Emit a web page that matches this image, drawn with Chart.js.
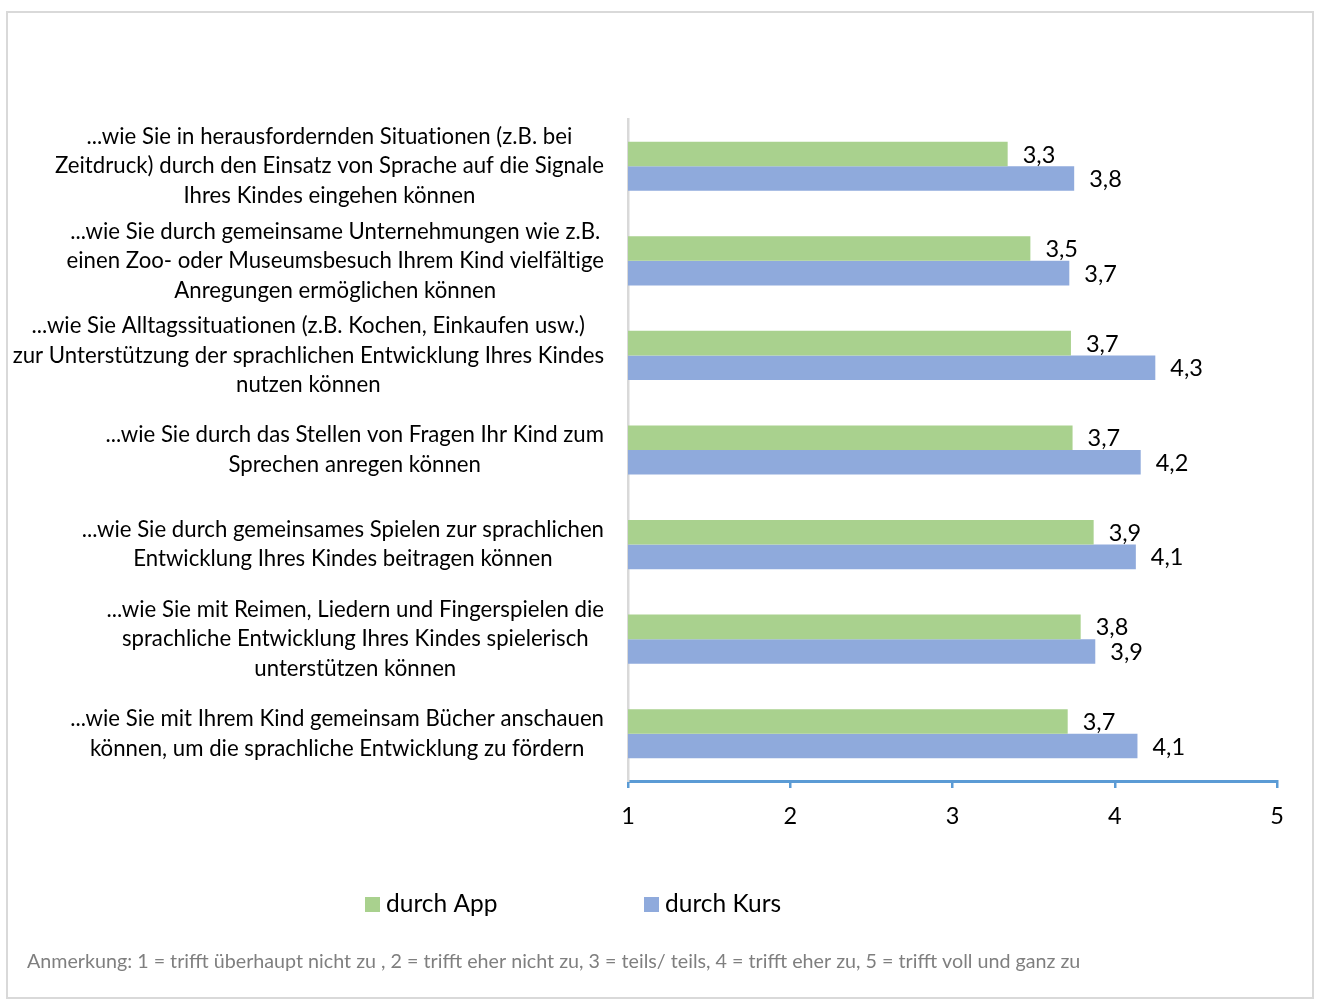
<!DOCTYPE html>
<html>
<head>
<meta charset="utf-8">
<script src="https://cdn.jsdelivr.net/npm/chart.js@4.4.1/dist/chart.umd.min.js"></script>
<style>
  html, body { margin: 0; padding: 0; background: #fff; }
  #wrap { position: relative; width: 1319px; height: 1000px; }
</style>
</head>
<body>
<div id="wrap"><canvas id="barChart" width="1319" height="1000"></canvas></div>
<script>
// category labels (already broken into lines as in the original)
const categories = [
    ["...wie Sie in herausfordernden Situationen (z.B. bei", "Zeitdruck) durch den Einsatz von Sprache auf die Signale", "Ihres Kindes eingehen können"],
    ["...wie Sie durch gemeinsame Unternehmungen wie z.B.", "einen Zoo- oder Museumsbesuch Ihrem Kind vielfältige", "Anregungen ermöglichen können"],
    ["...wie Sie Alltagssituationen (z.B. Kochen, Einkaufen usw.)", "zur Unterstützung der sprachlichen Entwicklung Ihres Kindes", "nutzen können"],
    ["...wie Sie durch das Stellen von Fragen Ihr Kind zum", "Sprechen anregen können"],
    ["...wie Sie durch gemeinsames Spielen zur sprachlichen", "Entwicklung Ihres Kindes beitragen können"],
    ["...wie Sie mit Reimen, Liedern und Fingerspielen die", "sprachliche Entwicklung Ihres Kindes spielerisch", "unterstützen können"],
    ["...wie Sie mit Ihrem Kind gemeinsam Bücher anschauen", "können, um die sprachliche Entwicklung zu fördern"]
];

const appValues  = [3.34, 3.48, 3.73, 3.74, 3.87, 3.79, 3.71];
const kursValues = [3.75, 3.72, 4.25, 4.16, 4.13, 3.88, 4.14];

const seriesNames = ["durch App", "durch Kurs"];
const xTicks = [1, 2, 3, 4, 5];

const note = "Anmerkung: 1 = trifft überhaupt nicht zu , 2 = trifft eher nicht zu, 3 = teils/ teils, 4 = trifft eher zu, 5 = trifft voll und ganz zu";

const GREEN = "#A9D18E";
const BLUE = "#8FAADC";
const FONT = "Lato";

const fmt = v => v.toFixed(1).replace(".", ",");

// value labels to the right of each bar
const valueLabels = {
    id: "valueLabels",
    afterDatasetsDraw(chart) {
        const ctx = chart.ctx;
        ctx.save();
        ctx.font = `23.5px ${FONT}`;
        ctx.fillStyle = "#000";
        ctx.textAlign = "left";
        ctx.textBaseline = "middle";
        chart.data.datasets.forEach((ds, i) => {
            chart.getDatasetMeta(i).data.forEach((bar, j) => {
                ctx.fillText(fmt(ds.data[j]), bar.x + 15, bar.y + 1);
            });
        });
        ctx.restore();
    }
};

// category labels: each block right aligned to the axis, its lines centred
const categoryLabels = {
    id: "categoryLabels",
    afterDraw(chart) {
        const ctx = chart.ctx;
        const yScale = chart.scales.y;
        const right = chart.chartArea.left - 24;
        const lineH = 29.5;
        ctx.save();
        ctx.font = `22.2px ${FONT}`;
        ctx.letterSpacing = "0.01px"; // keeps Lato from using its "ti" ligature
        ctx.fillStyle = "#000";
        ctx.textAlign = "center";
        ctx.textBaseline = "middle";
        chart.data.labels.forEach((lines, i) => {
            const widest = Math.max(...lines.map(l => ctx.measureText(l).width));
            const cx = right - widest / 2;
            const cy = yScale.getPixelForTick(i);
            lines.forEach((line, k) => {
                ctx.fillText(line, cx, cy + (k - (lines.length - 1) / 2) * lineH);
            });
        });
        ctx.restore();
    }
};

// frame, legend and footnote
const decorations = {
    id: "decorations",
    beforeDraw(chart) {
        const ctx = chart.ctx;
        ctx.save();
        ctx.fillStyle = "#fff";
        ctx.fillRect(0, 0, chart.width, chart.height);
        ctx.strokeStyle = "#D9D9D9";
        ctx.lineWidth = 2;
        ctx.strokeRect(7, 12, 1306, 986);
        ctx.restore();
    },
    afterDraw(chart) {
        const ctx = chart.ctx;
        ctx.save();
        // legend
        const legendX = [365, 644];
        ctx.font = `24.5px ${FONT}`;
        ctx.textBaseline = "middle";
        ctx.textAlign = "left";
        chart.data.datasets.forEach((ds, i) => {
            ctx.fillStyle = ds.backgroundColor;
            ctx.fillRect(legendX[i], 897, 15, 15);
            ctx.fillStyle = "#000";
            ctx.fillText(ds.label, legendX[i] + 21, 904);
        });
        // footnote
        ctx.font = `19.7px ${FONT}`;
        ctx.fillStyle = "#7F7F7F";
        ctx.fillText(note, 27, 962);
        ctx.restore();
    }
};

const ctx = document.getElementById("barChart").getContext("2d");
const barChart = new Chart(ctx, {
    type: "bar",
    data: {
        labels: categories,
        datasets: [
            {
                label: seriesNames[0],
                data: appValues,
                backgroundColor: GREEN,
                barPercentage: 1,
                categoryPercentage: 0.52,
            },
            {
                label: seriesNames[1],
                data: kursValues,
                backgroundColor: BLUE,
                barPercentage: 1,
                categoryPercentage: 0.52,
            },
        ],
    },
    options: {
        indexAxis: "y",
        responsive: false,
        animation: false,
        layout: {
            padding: { left: 10, right: 42, top: 119, bottom: 159 },
        },
        plugins: {
            legend: { display: false },
            tooltip: { enabled: false },
        },
        scales: {
            x: {
                min: 1,
                max: 5,
                afterBuildTicks: scale => {
                    scale.ticks = xTicks.map(v => ({ value: v }));
                },
                afterFit: scale => { scale.height = 60; },
                border: { color: "#5B9BD5", width: 3 },
                grid: {
                    drawOnChartArea: false,
                    drawTicks: true,
                    tickLength: 7,
                    color: "#5B9BD5",
                    lineWidth: 2.5,
                },
                ticks: {
                    color: "#000",
                    padding: 14,
                    font: { family: FONT, size: 23.5 },
                },
            },
            y: {
                afterFit: scale => { scale.width = 618; },
                border: { color: "#D9D9D9", width: 2.5 },
                grid: { display: false, drawTicks: false },
                ticks: { display: false },
            },
        },
    },
    plugins: [decorations, valueLabels, categoryLabels],
});
</script>
</body>
</html>
